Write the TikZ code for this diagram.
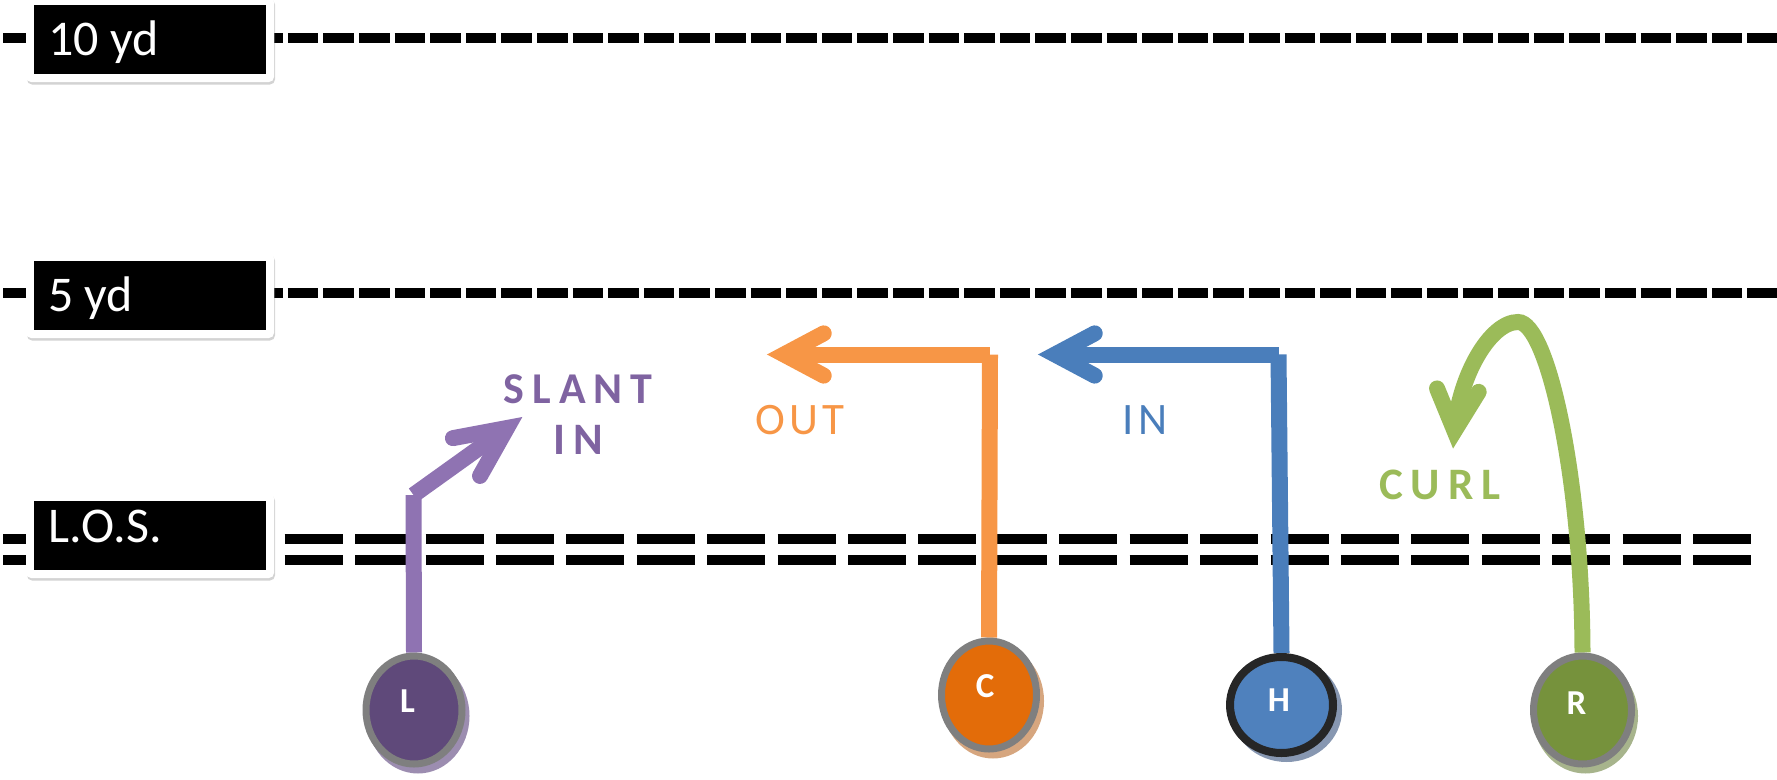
\documentclass[tikz,border=0pt]{standalone}
\usepackage{fontspec}
\setmainfont{Carlito}
\newfontfamily\labelfont[LetterSpace=18]{Carlito}
\newfontfamily\labelfontnarrow[LetterSpace=10]{Carlito}
\usetikzlibrary{calc,shadows,shapes.geometric}
\pgfdeclarelayer{bg}
\pgfdeclarelayer{mid}
\pgfsetlayers{bg,mid,main}
\definecolor{slantline}{HTML}{8F73B2}
\definecolor{slanttext}{HTML}{7F63A1}
\definecolor{orangeroute}{HTML}{F79646}
\definecolor{blueroute}{HTML}{4A7EBB}
\definecolor{greenroute}{HTML}{9BBB59}
\definecolor{Lfill}{HTML}{5F497A}
\definecolor{Cfill}{HTML}{E36C09}
\definecolor{Hfill}{HTML}{4F81BD}
\definecolor{Rfill}{HTML}{76923C}
\definecolor{ringgray}{HTML}{7F7F7F}
\definecolor{ringdark}{HTML}{262626}
\definecolor{Lshadow}{HTML}{9C8DB0}
\definecolor{Cshadow}{HTML}{D6A67F}
\definecolor{Hshadow}{HTML}{8797B1}
\definecolor{Rshadow}{HTML}{A7B48C}
\begin{document}
\begin{tikzpicture}[x=1pt,y=-1pt,
  yardline/.style={line width=10pt, dash pattern=on 30.5pt off 5.1pt},
  losline/.style={line width=10pt, dash pattern=on 58pt off 12.42pt},
  whitebox/.style={fill=white, rounded corners=5pt, minimum width=248pt, minimum height=85pt, inner sep=0pt,
    drop shadow={shadow xshift=1pt, shadow yshift=-2.5pt, opacity=0.35}},
  blackbox/.style={fill=black, minimum width=232pt, minimum height=69pt, inner sep=0pt},
  boxtext/.style={text=white, inner sep=0pt, anchor=base west, font=\fontsize{50}{60}\selectfont},
  player/.style={ellipse, inner sep=0pt, line width=7pt},
  playertext/.style={text=white, inner sep=0pt, font=\fontsize{35}{40}\selectfont\bfseries},
  route/.style={line width=16pt},
  barb/.style={line width=16pt, line cap=round, line join=miter, miter limit=10},
  playlabel/.style={inner sep=0pt, anchor=base}
]
\useasboundingbox (0,0) rectangle (1777,779);

\begin{pgfonlayer}{bg}
  \draw[yardline] (3,37.5) -- (1777,37.5);
  \draw[yardline] (3,293) -- (1777,293);
  \draw[losline] (3,539) -- (1751,539);
  \draw[losline] (3,560) -- (1751,560);

  \node[whitebox] (w10) at (150,39.5) {};
  \node[blackbox] (b10) at (150,39.5) {};
  \node[boxtext] (t10) at (48,55) {10 yd};

  \node[whitebox] (w5) at (150,295.5) {};
  \node[blackbox] (b5) at (150,295.5) {};
  \node[boxtext] (t5) at (48,311.7) {5 yd};

  \node[whitebox] (wlos) at (150,535.5) {};
  \node[blackbox] (blos) at (150,535.5) {};
  \node[boxtext] (tlos) at (48,542.7) {L.O.S.};
\end{pgfonlayer}

% player shadows
\fill[Lshadow] (418,716) ellipse [x radius=51.5pt, y radius=57.5pt];
\fill[Cshadow] (993,701) ellipse [x radius=51pt, y radius=57.5pt];
\fill[Hshadow] (1286.5,710) ellipse [x radius=55.5pt, y radius=52pt];
\fill[Rshadow] (1585.5,716) ellipse [x radius=52.5pt, y radius=57.5pt];

% players
\node[player, fill=Lfill, draw=ringgray, minimum width=96pt, minimum height=108pt] (L) at (414,710) {};
\node[player, fill=Cfill, draw=ringgray, minimum width=95pt, minimum height=108pt] (C) at (989,695) {};
\node[player, fill=Hfill, draw=ringdark, line width=8pt, minimum width=103pt, minimum height=96pt] (H) at (1281.5,705) {};
\node[player, fill=Rfill, draw=ringgray, minimum width=98pt, minimum height=108pt] (R) at (1582.5,710) {};

\node[playertext] (Lt) at (407.5,701) {L};
\node[playertext] (Ct) at (985,686) {C};
\node[playertext] (Ht) at (1279,700) {H};
\node[playertext] (Rt) at (1576.5,703) {R};

% route points
\coordinate (Lbend) at (413.5,495);
\coordinate (Lvert) at (507,428);
\coordinate (Cbend) at (990,354.5);
\coordinate (Cvert) at (784,354.5);
\coordinate (Hbend) at (1278.5,354.5);
\coordinate (Hvert) at (1055,354.5);
\coordinate (Rctrl) at (1459,376);
\coordinate (Rvert) at (1454.5,431);

\begin{pgfonlayer}{mid}
  % slant
  \draw[route, slantline] (L.north) -- (Lbend);
  \draw[route, slantline] (Lbend) -- (Lvert);
  \draw[barb, slantline] ($(Lvert)!55pt!25:(Lbend)$) -- (Lvert) -- ($(Lvert)!55pt!-25:(Lbend)$);
  % out
  \draw[route, orangeroute] (C.north) -- (Cbend);
  \draw[route, orangeroute] (Cbend) -- (Cvert);
  \draw[barb, orangeroute] ($(Cvert)!45pt!28:(Cbend)$) -- (Cvert) -- ($(Cvert)!45pt!-28:(Cbend)$);
  % in
  \draw[route, blueroute] (H.north) -- (Hbend);
  \draw[route, blueroute] (Hbend) -- (Hvert);
  \draw[barb, blueroute] ($(Hvert)!45pt!28:(Hbend)$) -- (Hvert) -- ($(Hvert)!45pt!-28:(Hbend)$);
  % curl
  \draw[route, greenroute] (R.north) .. controls (1582,480) and (1548,322) .. (1518,322)
      .. controls (1490,322) and (Rctrl) .. (Rvert);
  \draw[barb, greenroute] ($(Rvert)!46pt!27:(Rctrl)$) -- (Rvert) -- ($(Rvert)!46pt!-27:(Rctrl)$);
\end{pgfonlayer}

% route labels
\node[playlabel, text=slanttext, font=\labelfont\bfseries\fontsize{44}{50}\selectfont] (slant1) at (578,403) {SLANT};
\node[playlabel, text=slanttext, font=\labelfont\bfseries\fontsize{45}{50}\selectfont] (slant2) at (578,454) {IN};
\node[playlabel, text=orangeroute, font=\labelfontnarrow\fontsize{45}{50}\selectfont] (outlbl) at (800,434) {OUT};
\node[playlabel, text=blueroute, font=\labelfontnarrow\fontsize{45}{50}\selectfont] (inlbl) at (1145,434) {IN};
\node[playlabel, text=greenroute, font=\labelfont\bfseries\fontsize{45}{50}\selectfont] (curllbl) at (1440,499) {CURL};
\end{tikzpicture}
\end{document}
